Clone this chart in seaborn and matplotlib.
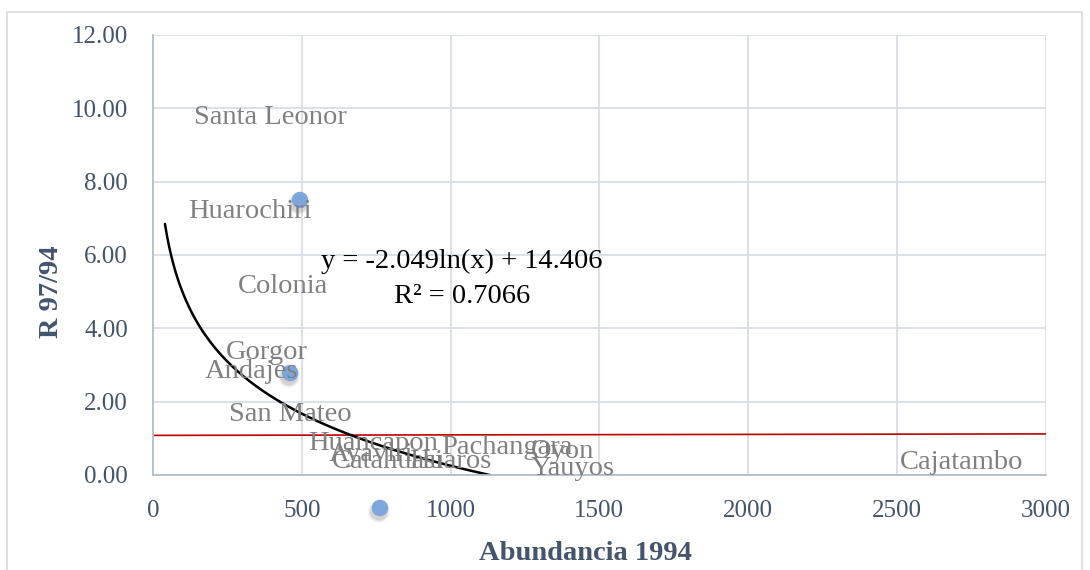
import numpy as np
import pandas as pd
import seaborn as sns
from matplotlib import pyplot as plt
from matplotlib.patches import Rectangle

# visible markers
point_x = [494, 461, 763]
point_y = [7.5, 2.78, -0.9]

# data labels (Excel places them apart from the markers)
label_names = ['Santa Leonor', 'Huarochiri', 'Colonia', 'Gorgor', 'Andajes',
               'San Mateo', 'Huancapon', 'Ayaviri', 'Catahuasi', 'Huaros',
               'Pachangara', 'Oyon', 'Yauyos', 'Cajatambo']
label_x = [393, 326, 437, 383, 330, 461, 740, 733, 790, 998, 1190, 1375, 1409, 2717]
label_y = [9.75, 7.19, 5.15, 3.35, 2.83, 1.66, 0.87, 0.55, 0.38, 0.38, 0.76, 0.63, 0.19, 0.35]

# logarithmic trendline y = a ln(x) + b
trend_a = -2.049
trend_b = 14.406
trend_start = 40
trend_end = 1133

# reference line R = 1
ref_x = [0, 3000]
ref_y = [1.08, 1.12]

x_ticks = [0, 500, 1000, 1500, 2000, 2500, 3000]
y_ticks = [0, 2, 4, 6, 8, 10, 12]

TEXT_COL = '#44546a'
GRID_COL = '#d9dee7'
AXIS_COL = '#b4bdcc'

sns.set_style('white')
plt.rcParams['font.family'] = ['Liberation Serif', 'DejaVu Serif']

fig = plt.figure(figsize=(10.9, 5.7), dpi=100)
ax = fig.add_axes([0.1404, 0.1667, 0.8188, 0.7719])

fig.patches.append(Rectangle((7 / 1090, 1 - 575 / 570), 1075 / 1090, 563 / 570,
                             transform=fig.transFigure, fill=False,
                             edgecolor='#d9d9d9', linewidth=1.2))

ax.set_xlim(0, 3000)
ax.set_ylim(0, 12)
ax.set_xticks(x_ticks)
ax.set_yticks(y_ticks)
ax.set_xticklabels([str(t) for t in x_ticks])
ax.set_yticklabels([f'{t:.2f}' for t in y_ticks])
ax.tick_params(axis='both', length=0, labelsize=18, labelcolor=TEXT_COL, pad=18)
ax.grid(True, color=GRID_COL, linewidth=1.3)
ax.set_axisbelow(True)
for side in ['top', 'right']:
    ax.spines[side].set_visible(False)
for side in ['left', 'bottom']:
    ax.spines[side].set_color(AXIS_COL)
    ax.spines[side].set_linewidth(1.3)

# red reference line
sns.lineplot(x=ref_x, y=ref_y, color='#c00000', linewidth=1.2, ax=ax)

# trendline
trend_x = np.linspace(trend_start, trend_end, 300)
trend_y = trend_a * np.log(trend_x) + trend_b
sns.lineplot(x=trend_x, y=trend_y, color='black', linewidth=1.8, ax=ax)

# data labels
for name, lx, ly in zip(label_names, label_x, label_y):
    ax.text(lx, ly, name, ha='center', va='center', fontsize=20.5,
            color='#808080', clip_on=False)

# markers with a soft shadow
for size, alpha in [(260, 0.08), (200, 0.12), (160, 0.18)]:
    sns.scatterplot(x=np.array(point_x) - 4, y=np.array(point_y) - 0.1,
                    s=size, color='#808080', alpha=alpha, edgecolor='none', ax=ax)
sns.scatterplot(x=point_x, y=point_y, s=140, color='#7ea6dc', edgecolor='none', ax=ax)
for coll in ax.collections:
    coll.set_clip_on(False)

ax.text(1039, 5.83, 'y = -2.049ln(x) + 14.406', ha='center', va='center',
        fontsize=20.5, color='black')
ax.text(1039, 4.88, 'R² = 0.7066', ha='center', va='center',
        fontsize=20.5, color='black')

fig.text(585 / 1090, 1 - 553 / 570, 'Abundancia 1994', ha='center', va='center',
         fontsize=20.5, fontweight='bold', color=TEXT_COL)
fig.text(52 / 1090, 1 - 292 / 570, 'R 97/94', ha='center', va='center', rotation=90,
         fontsize=20.5, fontweight='bold', color=TEXT_COL)

plt.savefig('out.png', dpi=100)
plt.close()
